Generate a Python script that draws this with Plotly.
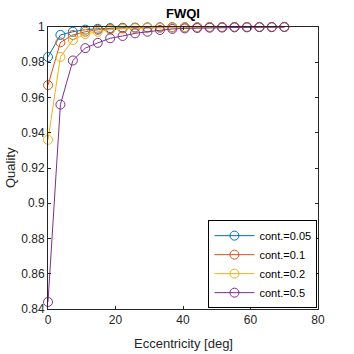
import plotly.graph_objects as go

ecc = [0, 3.68, 7.37, 11.05, 14.74, 18.42, 22.11, 25.79, 29.47, 33.16,
       36.84, 40.53, 44.21, 47.89, 51.58, 55.26, 58.95, 62.63, 66.32, 70.0]

q_005 = [0.983, 0.9955, 0.9973, 0.9985, 0.999, 0.9994, 0.9996, 0.9997, 0.9998, 0.9998,
         0.9999, 0.9999, 0.9999, 1.0, 1.0, 1.0, 1.0, 1.0, 1.0, 1.0]
q_01 = [0.967, 0.9913, 0.9955, 0.9973, 0.9984, 0.999, 0.9993, 0.9995, 0.9996, 0.9997,
        0.9998, 0.9998, 0.9999, 0.9999, 0.9999, 1.0, 1.0, 1.0, 1.0, 1.0]
q_02 = [0.936, 0.983, 0.9926, 0.996, 0.9973, 0.9985, 0.999, 0.9993, 0.9995, 0.9996,
        0.9997, 0.9998, 0.9998, 0.9999, 0.9999, 0.9999, 1.0, 1.0, 1.0, 1.0]
q_05 = [0.844, 0.956, 0.981, 0.988, 0.991, 0.9936, 0.9949, 0.9964, 0.9973, 0.9983,
        0.9989, 0.9992, 0.9994, 0.9996, 0.9997, 0.9998, 0.9998, 0.9999, 0.9999, 1.0]

names = ["cont.=0.05", "cont.=0.1", "cont.=0.2", "cont.=0.5"]
colors = ["#0072BD", "#D95319", "#EDB120", "#7E2F8E"]
series = [q_005, q_01, q_02, q_05]

fig = go.Figure()
for name, col, ys in zip(names, colors, series):
    fig.add_trace(go.Scatter(
        x=ecc, y=ys, name=name, mode="lines+markers",
        line=dict(color=col, width=1),
        marker=dict(symbol="circle-open", size=9, color=col, line=dict(width=1, color=col)),
        cliponaxis=False,
    ))

font = "Liberation Sans, Arial, sans-serif"
fig.update_layout(
    width=354, height=354,
    margin=dict(l=48, r=36, t=27, b=45),
    paper_bgcolor="white", plot_bgcolor="white",
    font=dict(family=font, size=12, color="#262626"),
    title=dict(text="<b>FWQI</b>", x=0.517, xanchor="center", y=0.963, yanchor="middle",
               font=dict(size=13, color="black")),
    showlegend=True,
    legend=dict(x=0.998, y=0.003, xanchor="right", yanchor="bottom",
                bordercolor="black", borderwidth=1, bgcolor="white",
                font=dict(size=11, color="black"), tracegroupgap=0,
                itemwidth=40),
    xaxis=dict(range=[0, 80], tickvals=[0, 20, 40, 60, 80], showgrid=False, zeroline=False,
               showline=True, linecolor="#262626", linewidth=1, mirror="ticks",
               ticks="inside", ticklen=3, tickcolor="#262626",
               tickfont=dict(size=12), automargin=False),
    yaxis=dict(range=[0.84, 1.0], tickvals=[0.84, 0.86, 0.88, 0.9, 0.92, 0.94, 0.96, 0.98, 1.0],
               ticktext=["0.84", "0.86", "0.88", "0.9", "0.92", "0.94", "0.96", "0.98", "1"],
               showgrid=False, zeroline=False,
               showline=True, linecolor="#262626", linewidth=1, mirror="ticks",
               ticks="inside", ticklen=3, tickcolor="#262626",
               tickfont=dict(size=12), automargin=False),
    annotations=[
        dict(text="Eccentricity [deg]", xref="paper", yref="paper", x=0.5, y=0,
             xanchor="center", yanchor="middle", yshift=-34, showarrow=False,
             font=dict(size=13, color="#262626")),
        dict(text="Quality", xref="paper", yref="paper", x=0, y=0.5,
             xanchor="center", yanchor="middle", xshift=-38, textangle=-90,
             showarrow=False, font=dict(size=13, color="#262626")),
    ],
)

fig.write_html("out.html")
